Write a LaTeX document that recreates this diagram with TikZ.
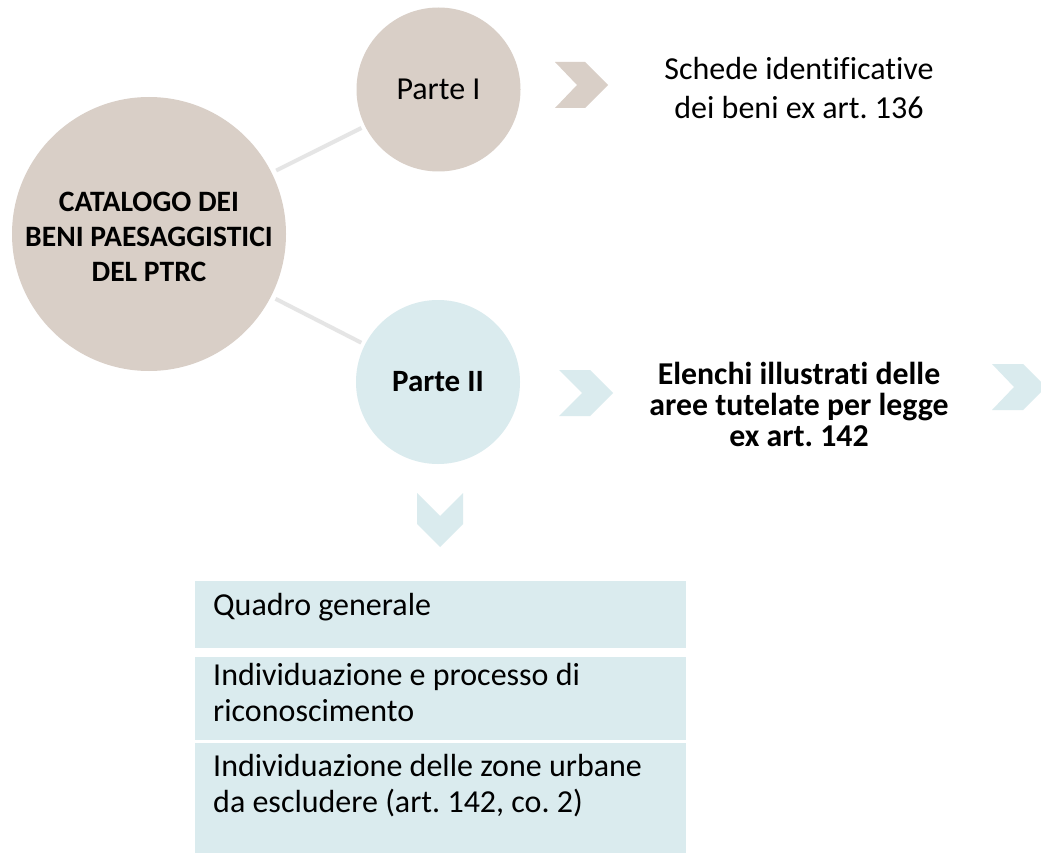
\documentclass[tikz,border=0pt]{standalone}
\usepackage{fontspec}
\setmainfont{Carlito}[Ligatures=NoCommon]
\usetikzlibrary{calc}
\definecolor{brownc}{HTML}{D9CFC7}
\definecolor{bluec}{HTML}{DAEBEE}
\definecolor{linec}{HTML}{E5E5E5}
\frenchspacing
\begin{document}
\begin{tikzpicture}[x=1pt,y=-1pt,
  circ/.style={circle, fill=#1, inner sep=0pt, align=center},
  link/.style={draw=linec, line width=4pt, shorten <=5pt, shorten >=4pt},
  box/.style={rectangle, fill=bluec, inner sep=0pt, minimum width=491pt},
  boxtext/.style={inner sep=0pt, align=left, anchor=base west, font=\fontsize{32}{35.5}\selectfont},
]
\useasboundingbox[fill=white] (0,0) rectangle (1041,853);

% circles
\node[circ=brownc, minimum size=274pt] (cat) at (149,234) {};
\node[align=center, font=\bfseries\fontsize{29.6}{35}\selectfont] (cattext) at (149,237) {CATALOGO DEI\\BENI PAESAGGISTICI\\DEL PTRC};
\node[circ=brownc, minimum size=164pt, font=\fontsize{32}{38}\selectfont] (p1) at (438.5,89.5) {Parte I};
\node[circ=bluec, minimum size=164pt, font=\bfseries\fontsize{31}{37}\selectfont] (p2) at (438,382) {Parte II};

% connectors
\draw[link] (cat) -- (p1);
\draw[link] (cat) -- (p2);

% chevrons
\fill[brownc] (555,62) -- (585,62) -- (608,85) -- (585,108) -- (555,108) -- (577,85) -- cycle;
\fill[bluec] (559,370) -- (590,370) -- (613,393) -- (590,416) -- (559,416) -- (582,393) -- cycle;
\fill[bluec] (992,364) -- (1023,364) -- (1046,387) -- (1023,410) -- (992,410) -- (1014,387) -- cycle;
\fill[bluec] (417,493) -- (440,516) -- (463,493) -- (463,524) -- (440,547) -- (417,524) -- cycle;

% texts
\node[font=\fontsize{32}{39}\selectfont, align=center] (t1) at (799,88) {Schede identificative\\dei beni ex art. 136};
\node[font=\bfseries\fontsize{31.8}{31}\selectfont, align=center] (t2) at (799,404) {Elenchi illustrati delle\\aree tutelate per legge\\ex art. 142};

% boxes
\node[box, minimum height=67pt] (b1) at (440.5,614.5) {};
\node[box, minimum height=83pt] (b2) at (440.5,698.5) {};
\node[box, minimum height=111pt] (b3) at (440.5,798.5) {};
\node[boxtext] (q1) at (213,615) {Quadro generale};
\node[boxtext] (q2) at (213,721) {Individuazione e processo di\\riconoscimento};
\node[boxtext] (q3) at (213,812) {Individuazione delle zone urbane\\da escludere (art. 142, co. 2)};
\end{tikzpicture}
\end{document}
